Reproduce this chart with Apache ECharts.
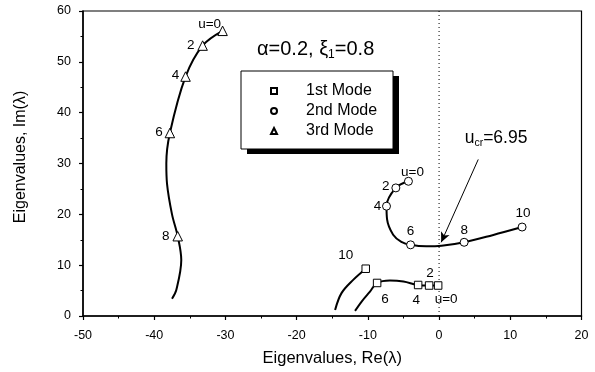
<!DOCTYPE html>
<html><head><meta charset="utf-8">
<script src="https://cdn.jsdelivr.net/npm/echarts@6/dist/echarts.min.js"></script>
<style>html,body{margin:0;padding:0;background:#fff}#c{width:595px;height:372px}</style>
</head><body><div id="c"></div>
<script>
// ---------- data ----------
const modeNames = ['1st Mode', '2nd Mode', '3rd Mode'];

const mode1Curve  = [[-0.13,6.0],[-1.4,6.0],[-2.94,6.1],[-5.0,6.8],[-6.9,7.0],[-8.7,6.5],[-9.7,4.8],[-10.9,2.8],[-11.8,1.0]];
const mode1Branch = [[-10.3,9.3],[-12.06,7.1],[-13.7,4.5],[-14.6,1.2]];
const mode1Points = [[-0.13,6.0],[-1.4,6.0],[-2.94,6.1],[-8.7,6.5],[-10.3,9.3]];
const mode1Labels = ['u=0','2','4','6','10'];

const mode2Curve  = [[-4.3,26.5],[-6.07,25.2],[-7.38,21.6],[-7.3,19.0],[-6.45,16.0],[-5.3,14.6],[-4.0,14.0],[-1.8,13.7],[0.34,13.8],[3.52,14.5],[7.5,15.9],[11.66,17.5]];
const mode2Points = [[-4.3,26.5],[-6.07,25.2],[-7.38,21.6],[-4.0,14.0],[3.52,14.5],[11.66,17.5]];
const mode2Labels = ['u=0','2','4','6','8','10'];

const mode3Curve  = [[-30.4,56.1],[-33.2,53.2],[-35.6,47.1],[-37.8,36.0],[-38.3,30],[-38.2,26],[-37.5,20],[-36.7,15.7],[-36.2,11],[-36.9,5.1],[-37.5,3.4]];
const mode3Points = [[-30.4,56.1],[-33.2,53.2],[-35.6,47.1],[-37.8,36.0],[-36.7,15.7]];
const mode3Labels = ['u=0','2','4','6','8'];

const zeroLine = [[0, 0], [0, 60]];
const criticalText = 'u_cr=6.95';
const criticalPoint = [0.3, 14.5];

const xTickLabels = ['-50','-40','-30','-20','-10','0','10','20'];
const yTickLabels = ['0','10','20','30','40','50','60'];

// ---------- style ----------
const FF = 'Liberation Sans, Arial, sans-serif';
const labelOffsets1 = [[8,14],[1,-12],[-2,15],[8,16],[-20,-13]];
const labelOffsets2 = [[4,-9],[-10,-2],[-9,0],[0,-14],[0,-12],[1,-14]];
const labelOffsets3 = [[-13,-7],[-12,0],[-10,-1],[-11,-1],[-12,0]];
const arrowStart = [5.5, 30.8];
const annotAt = [8.0, 35.0];

function pts(values, labels, offs) {
  return values.map((v, i) => ({
    value: v,
    label: {show: true, formatter: labels[i], position: 'inside', offset: offs[i],
      color: '#000', textBorderWidth: 0, fontSize: 13.5, fontFamily: FF, align: 'center', verticalAlign: 'middle'}
  }));
}
function curve(name, data) {
  return {type: 'line', name: name, data: data, smooth: 0.35, symbol: 'none',
    lineStyle: {color: '#000', width: 2}, z: 2, silent: true};
}
function markers(name, sym, size, data) {
  return {type: 'scatter', name: name, data: data, symbol: sym, symbolSize: size,
    itemStyle: {color: '#fff', borderColor: '#000', borderWidth: 1, opacity: 1}, z: 5};
}
const p = criticalText.split('_');
const annotRich = '{u|' + p[0] + '}{s|' + p[1].split('=')[0] + '}{t|=' + p[1].split('=')[1] + '}';

const chart = echarts.init(document.getElementById('c'), null, {renderer: 'canvas'});
const option = {
  animation: false,
  backgroundColor: '#fff',
  textStyle: {fontFamily: FF},
  title: {
    text: '{a|α=0.2, ξ}{s|1}{a|=0.8}',
    left: 257, top: 37, padding: 0,
    textStyle: {fontWeight: 'normal', rich: {
      a: {fontSize: 20, fontFamily: FF, fontWeight: 'normal', color: '#000', lineHeight: 24},
      s: {fontSize: 12, fontFamily: FF, fontWeight: 'normal', color: '#000', lineHeight: 22, verticalAlign: 'bottom'}
    }}
  },
  graphic: [
    {type: 'rect', z: 10, silent: true, shape: {x: 247, y: 76, width: 152, height: 78}, style: {fill: '#000'}},
    {type: 'rect', z: 11, silent: true, shape: {x: 241, y: 71, width: 152, height: 78}, style: {fill: '#fff', stroke: '#000', lineWidth: 1}}
  ],
  legend: {
    data: modeNames, orient: 'vertical', left: 241, top: 71, z: 20,
    padding: [12, 17, 10, 29], itemGap: 4, itemWidth: 6, itemHeight: 6,
    formatter: n => '{t|' + n + '}',
    textStyle: {rich: {t: {fontSize: 16, lineHeight: 16, color: '#000', fontFamily: FF, padding: [0, 0, 0, 24]}}}
  },
  grid: {left: 83, right: 13.5, top: 11, bottom: 56, show: true, borderColor: '#000', borderWidth: 1.2},
  xAxis: {
    type: 'value', min: -50, max: 20, interval: 10,
    axisLine: {onZero: false, lineStyle: {color: '#000', width: 1.5}},
    axisTick: {length: 4, lineStyle: {color: '#000', width: 1.2}},
    minorTick: {show: true, splitNumber: 2, length: 2.5, lineStyle: {color: '#000', width: 1}},
    splitLine: {show: false},
    axisLabel: {color: '#000', fontSize: 12.5, fontFamily: FF, margin: 13,
      formatter: (v) => xTickLabels[Math.round((v + 50) / 10)]},
    name: 'Eigenvalues, Re(λ)', nameLocation: 'middle', nameGap: 34,
    nameTextStyle: {fontSize: 16.5, color: '#000', fontFamily: FF}
  },
  yAxis: {
    type: 'value', min: 0, max: 60, interval: 10,
    axisLine: {onZero: false, lineStyle: {color: '#000', width: 1.5}},
    axisTick: {length: 4, lineStyle: {color: '#000', width: 1.2}},
    minorTick: {show: true, splitNumber: 2, length: 2.5, lineStyle: {color: '#000', width: 1}},
    splitLine: {show: false},
    axisLabel: {color: '#000', fontSize: 12.5, fontFamily: FF, margin: 12,
      formatter: (v) => yTickLabels[Math.round(v / 10)]},
    name: 'Eigenvalues, Im(λ)', nameLocation: 'middle', nameGap: 54,
    nameTextStyle: {fontSize: 16, color: '#000', fontFamily: FF, padding: [0, 0, 0, 13]}
  },
  series: [
    {type: 'line', name: 'zero', data: zeroLine, symbol: 'none', silent: true, z: 1,
      lineStyle: {type: [1, 3], color: '#000', width: 1}},
    curve('c1', mode1Curve),
    curve('c1b', mode1Branch),
    Object.assign(curve('c2', mode2Curve), {
      markLine: {silent: true, symbol: ['none', 'arrow'], symbolSize: [7, 10], label: {show: false},
        lineStyle: {type: 'solid', color: '#000', width: 1},
        data: [[{coord: arrowStart}, {coord: criticalPoint}]]},
      markPoint: {silent: true, symbol: 'circle', symbolSize: 0,
        data: [{coord: annotAt, itemStyle: {color: 'transparent'},
          label: {show: true, position: 'inside', formatter: annotRich, color: '#000', textBorderWidth: 0,
            rich: {
              u: {fontSize: 17.5, fontFamily: FF, color: '#000', lineHeight: 22},
              s: {fontSize: 10.5, fontFamily: FF, color: '#000', lineHeight: 22, verticalAlign: 'bottom'},
              t: {fontSize: 17.5, fontFamily: FF, color: '#000', lineHeight: 22}
            }}}]}
    }),
    curve('c3', mode3Curve),
    markers('1st Mode', 'rect', 7.5, pts(mode1Points, mode1Labels, labelOffsets1)),
    markers('2nd Mode', 'circle', 8, pts(mode2Points, mode2Labels, labelOffsets2)),
    markers('3rd Mode', 'triangle', 9.5, pts(mode3Points, mode3Labels, labelOffsets3))
  ]
};
chart.setOption(option);
</script>
</body></html>
